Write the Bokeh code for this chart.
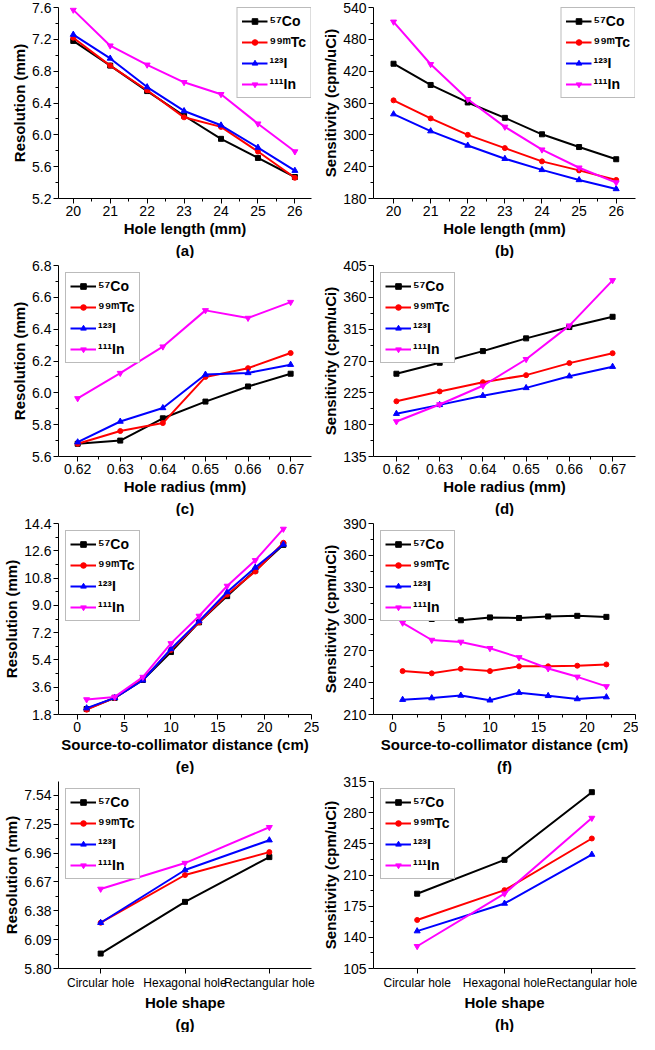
from bokeh.plotting import figure
from bokeh.models import FixedTicker, PrintfTickFormatter, Title, Range1d, FactorRange
from bokeh.layouts import gridplot
from bokeh.embed import file_html
from bokeh.resources import INLINE

# ---------------- data ----------------
isotopes = ["\u2075\u2077Co", "\u2079\u2079\u1d50Tc", "\u00b9\u00b2\u00b3I", "\u00b9\u00b9\u00b9In"]
colors = ["#000000", "#ff0000", "#0000ff", "#ff00ff"]
markers = ["square", "circle", "triangle", "inverted_triangle"]

hole_length = [20, 21, 22, 23, 24, 25, 26]
len_res_co = [7.18, 6.87, 6.55, 6.24, 5.95, 5.71, 5.47]
len_res_tc = [7.22, 6.87, 6.56, 6.22, 6.10, 5.79, 5.46]
len_res_i = [7.26, 6.96, 6.60, 6.30, 6.12, 5.84, 5.55]
len_res_in = [7.57, 7.12, 6.88, 6.66, 6.51, 6.14, 5.79]

len_sens_co = [434, 394, 361, 332, 301, 277, 254]
len_sens_tc = [365, 331, 300, 275, 250, 233, 215]
len_sens_i = [339, 307, 280, 255, 234, 215, 198]
len_sens_in = [513, 433, 367, 315, 272, 238, 210]

hole_radius = [0.62, 0.63, 0.64, 0.65, 0.66, 0.67]
rad_res_co = [5.68, 5.70, 5.84, 5.945, 6.04, 6.12]
rad_res_tc = [5.68, 5.76, 5.81, 6.10, 6.155, 6.25]
rad_res_i = [5.69, 5.82, 5.905, 6.115, 6.125, 6.177]
rad_res_in = [5.965, 6.124, 6.29, 6.518, 6.47, 6.57]

rad_sens_co = [252, 267.5, 284, 302, 318, 332.5]
rad_sens_tc = [213, 227, 240, 250, 267, 281]
rad_sens_i = [195.5, 208, 221, 232, 248.5, 262]
rad_sens_in = [184.5, 208.5, 235, 272.5, 320, 384]

distance = [1, 4, 7, 10, 13, 16, 19, 22]
dist_res_co = [2.16, 2.90, 4.08, 5.92, 7.88, 9.61, 11.30, 12.99]
dist_res_tc = [2.12, 2.90, 4.12, 6.06, 7.88, 9.71, 11.23, 13.13]
dist_res_i = [2.22, 2.90, 4.06, 6.12, 7.96, 9.88, 11.50, 13.02]
dist_res_in = [2.79, 2.96, 4.27, 6.49, 8.30, 10.28, 11.97, 14.04]

dist_sens_co = [301.8, 300.0, 298.8, 301.5, 300.9, 302.4, 303.0, 302.0]
dist_sens_tc = [250.9, 248.8, 253.0, 250.9, 255.4, 255.4, 256.0, 257.2]
dist_sens_i = [224.0, 225.5, 227.9, 223.4, 230.6, 227.6, 224.6, 226.4]
dist_sens_in = [296.4, 280.2, 278.4, 272.4, 263.8, 253.3, 245.5, 236.5]

shapes = ["Circular hole", "Hexagonal hole", "Rectangular hole"]
shape_res_co = [5.95, 6.47, 6.92]
shape_res_tc = [6.26, 6.74, 6.97]
shape_res_i = [6.26, 6.79, 7.09]
shape_res_in = [6.60, 6.86, 7.22]

shape_sens_co = [189, 227, 303]
shape_sens_tc = [159.5, 193, 251]
shape_sens_i = [147, 178, 233]
shape_sens_in = [130, 189, 274]

# tick labels
ticks_len = [20, 21, 22, 23, 24, 25, 26]
ticks_res_a = [5.2, 5.6, 6.0, 6.4, 6.8, 7.2, 7.6]
ticks_sens_b = [180, 240, 300, 360, 420, 480, 540]
ticks_rad = [0.62, 0.63, 0.64, 0.65, 0.66, 0.67]
ticks_res_c = [5.6, 5.8, 6.0, 6.2, 6.4, 6.6, 6.8]
ticks_sens_d = [135, 180, 225, 270, 315, 360, 405]
ticks_dist = [0, 5, 10, 15, 20, 25]
ticks_res_e = [1.8, 3.6, 5.4, 7.2, 9.0, 10.8, 12.6, 14.4]
ticks_sens_f = [210, 240, 270, 300, 330, 360, 390]
ticks_res_g = [5.80, 6.09, 6.38, 6.67, 6.96, 7.25, 7.54]
ticks_sens_h = [105, 140, 175, 210, 245, 280, 315]

FONT = "Liberation Sans"


def mids(t):
    return [(a + b) / 2 for a, b in zip(t, t[1:])]


def style_axis(ax, label_size="14px"):
    ax.axis_line_color = "black"
    ax.axis_line_width = 1
    ax.major_tick_line_color = "black"
    ax.major_tick_out = 5
    ax.major_tick_in = 0
    ax.minor_tick_line_color = "black"
    ax.minor_tick_out = 3
    ax.minor_tick_in = 0
    ax.major_label_text_font = FONT
    ax.major_label_text_font_size = label_size
    ax.major_label_text_color = "black"
    ax.axis_label_text_font = FONT
    ax.axis_label_text_font_size = "15px"
    ax.axis_label_text_font_style = "bold"
    ax.axis_label_text_color = "black"
    ax.major_label_standoff = 2
    ax.axis_label_standoff = 1


def panel(x, ys, x_range, y_range, xticks, yticks, xfmt, yfmt, xlabel, ylabel,
          caption, legend_loc, left_col):
    p = figure(width=319, height=258, output_backend="svg", toolbar_location=None,
               x_range=x_range, y_range=y_range,
               min_border_left=50, min_border_right=(8 if left_col else 3),
               min_border_top=7, min_border_bottom=5)
    p.outline_line_color = None
    p.xgrid.visible = False
    p.ygrid.visible = False
    p.background_fill_color = "white"
    for yv, lab, col, mk in zip(ys, isotopes, colors, markers):
        p.line(x, yv, line_color=col, line_width=2, legend_label=lab)
        size = 5 if mk in ("square", "circle") else 6
        p.scatter(x, yv, marker=mk, size=size, fill_color=col, line_color=col,
                  legend_label=lab)
    if xticks is not None:
        p.xaxis.ticker = FixedTicker(ticks=xticks, minor_ticks=mids(xticks))
        p.xaxis.formatter = PrintfTickFormatter(format=xfmt)
        style_axis(p.xaxis[0])
    else:
        style_axis(p.xaxis[0], label_size="12px")
    p.yaxis.ticker = FixedTicker(ticks=yticks, minor_ticks=mids(yticks))
    p.yaxis.formatter = PrintfTickFormatter(format=yfmt)
    style_axis(p.yaxis[0])
    p.xaxis.axis_label = xlabel
    p.yaxis.axis_label = ylabel
    p.add_layout(Title(text=caption, align="center", text_font=FONT,
                       text_font_size="15px", text_font_style="bold",
                       text_color="black", standoff=0, offset=0), "below")
    lg = p.legend[0]
    lg.location = legend_loc
    lg.margin = 0 if legend_loc == "top_right" else 7
    lg.padding = 4
    lg.spacing = 3
    lg.glyph_width = 26
    lg.glyph_height = 14
    lg.label_height = 18
    lg.label_standoff = 2
    lg.label_text_font = FONT
    lg.label_text_font_size = "14px"
    lg.label_text_font_style = "bold"
    lg.label_text_color = "black"
    lg.border_line_color = "#777777"
    lg.border_line_width = 1
    lg.background_fill_alpha = 1.0
    return p


pa = panel(hole_length, [len_res_co, len_res_tc, len_res_i, len_res_in],
           Range1d(19.6, 26.45), Range1d(5.2, 7.6), ticks_len, ticks_res_a,
           "%d", "%.1f", "Hole length (mm)", "Resolution (mm)", "(a)", "top_right", True)
pb = panel(hole_length, [len_sens_co, len_sens_tc, len_sens_i, len_sens_in],
           Range1d(19.46, 26.52), Range1d(180, 540), ticks_len, ticks_sens_b,
           "%d", "%d", "Hole length (mm)", "Sensitivity (cpm/uCi)", "(b)", "top_right", False)
pc = panel(hole_radius, [rad_res_co, rad_res_tc, rad_res_i, rad_res_in],
           Range1d(0.6155, 0.6749), Range1d(5.6, 6.8), ticks_rad, ticks_res_c,
           "%.2f", "%.1f", "Hole radius (mm)", "Resolution (mm)", "(c)", "top_left", True)
pd_ = panel(hole_radius, [rad_sens_co, rad_sens_tc, rad_sens_i, rad_sens_in],
            Range1d(0.6147, 0.6753), Range1d(135, 405), ticks_rad, ticks_sens_d,
            "%.2f", "%d", "Hole radius (mm)", "Sensitivity (cpm/uCi)", "(d)", "top_left", False)
pe = panel(distance, [dist_res_co, dist_res_tc, dist_res_i, dist_res_in],
           Range1d(-2, 25), Range1d(1.8, 14.4), ticks_dist, ticks_res_e,
           "%d", "%.1f", "Source-to-collimator distance (cm)", "Resolution (mm)", "(e)",
           "top_left", True)
pf = panel(distance, [dist_sens_co, dist_sens_tc, dist_sens_i, dist_sens_in],
           Range1d(-2, 25), Range1d(210, 390), ticks_dist, ticks_sens_f,
           "%d", "%d", "Source-to-collimator distance (cm)", "Sensitivity (cpm/uCi)", "(f)",
           "top_left", False)
pg = panel(shapes, [shape_res_co, shape_res_tc, shape_res_i, shape_res_in],
           FactorRange(*shapes), Range1d(5.80, 7.68), None, ticks_res_g,
           None, "%.2f", "Hole shape", "Resolution (mm)", "(g)", "top_left", True)
ph = panel(shapes, [shape_sens_co, shape_sens_tc, shape_sens_i, shape_sens_in],
           FactorRange(*shapes), Range1d(105, 315), None, ticks_sens_h,
           None, "%d", "Hole shape", "Sensitivity (cpm/uCi)", "(h)", "top_left", False)

grid = gridplot([[pa, pb], [pc, pd_], [pe, pf], [pg, ph]], toolbar_location=None)

open("out.html", "w").write(file_html(grid, INLINE))
